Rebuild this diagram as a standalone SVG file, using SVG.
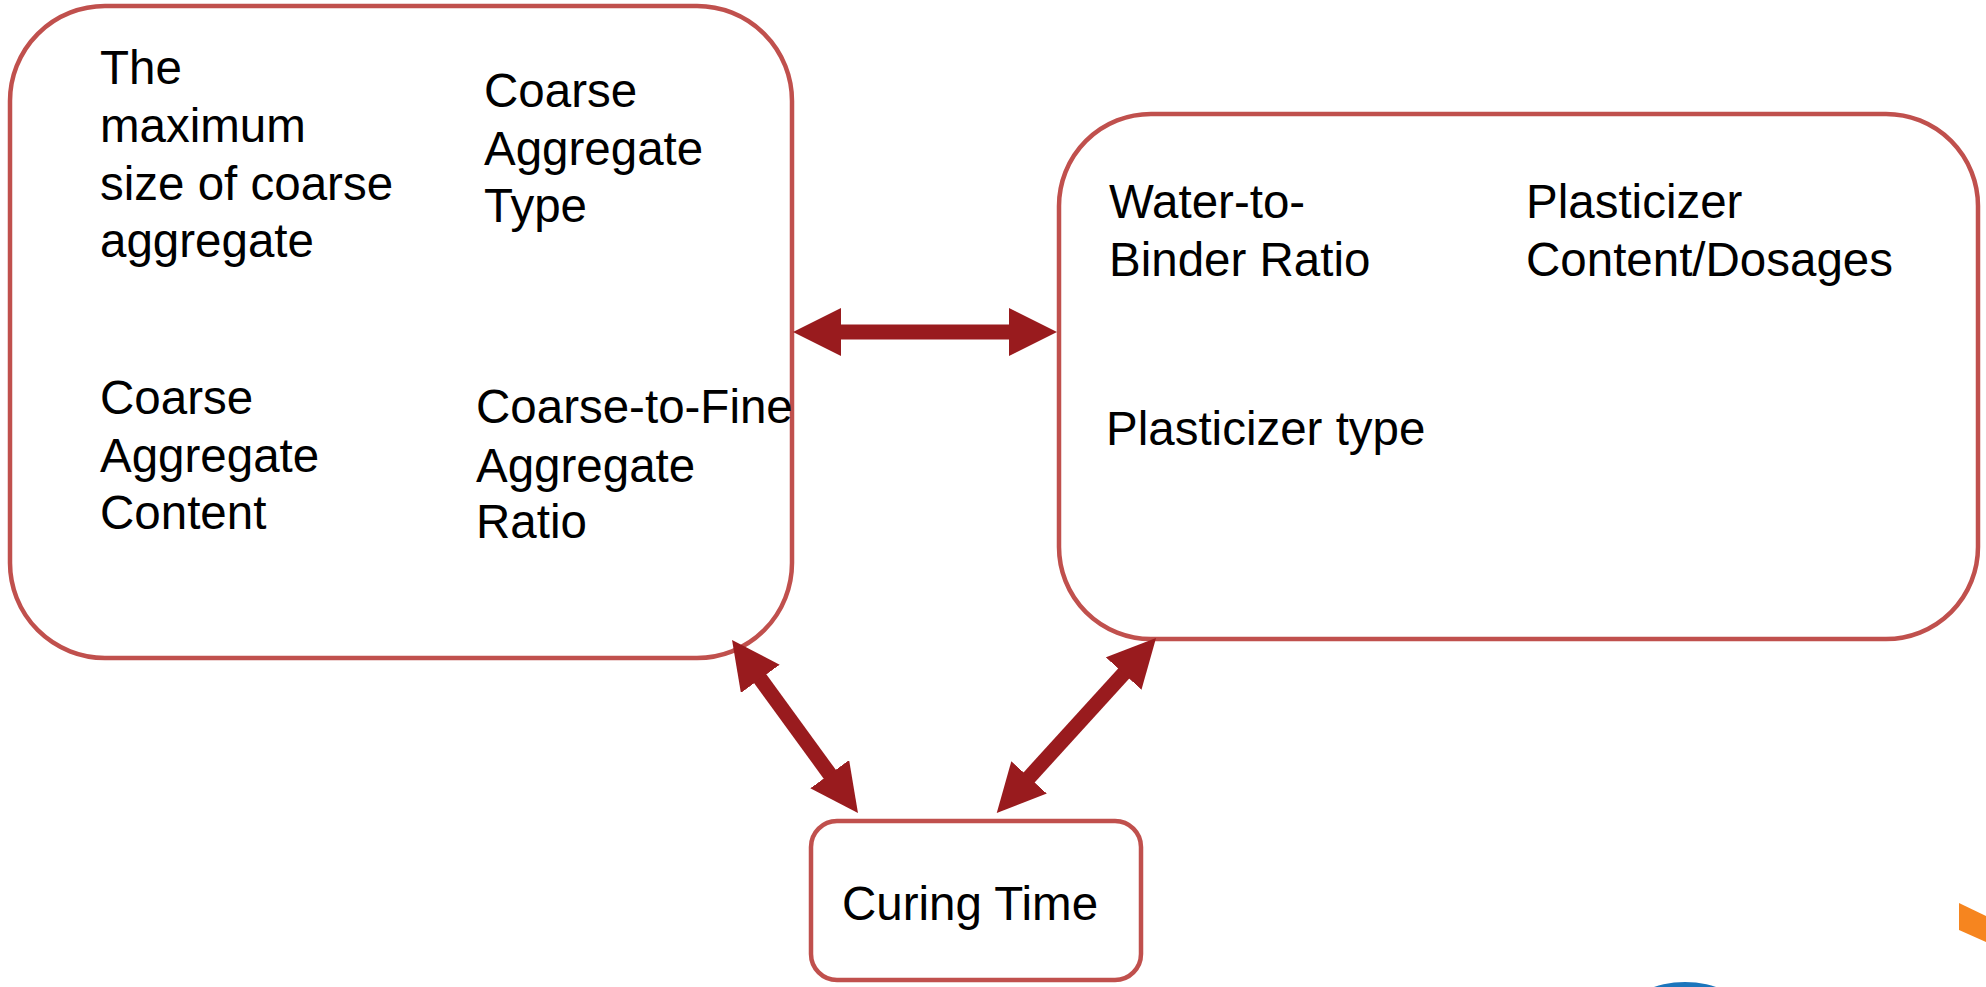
<svg xmlns="http://www.w3.org/2000/svg" width="1986" height="987" viewBox="0 0 1986 987">
<defs>
<style>
.box{fill:#fff;stroke:#C0504D;stroke-width:4.5}
.t{font-family:"Liberation Sans",Arial,sans-serif;font-size:47.5px;fill:#000}
.conn{stroke:#991B1E;stroke-width:15;fill:none;marker-start:url(#head);marker-end:url(#head)}
</style>
<marker id="head" markerUnits="userSpaceOnUse" viewBox="0 -24 48 48" markerWidth="48" markerHeight="48" refX="1" refY="0" orient="auto-start-reverse">
<path d="M0,-24 L48,0 L0,24 z" fill="#991B1E"/>
</marker>
</defs>
<rect width="1986" height="987" fill="#fff"/>
<g id="aggregate-box">
<rect class="box" x="10" y="6" width="782" height="652" rx="95" ry="95"/>
<text class="t"><tspan x="100" y="84">The</tspan><tspan x="100" y="142">maximum</tspan><tspan x="100" y="200">size of coarse</tspan><tspan x="100" y="257">aggregate</tspan></text>
<text class="t"><tspan x="484" y="107">Coarse</tspan><tspan x="484" y="165">Aggregate</tspan><tspan x="484" y="222">Type</tspan></text>
<text class="t"><tspan x="100" y="414">Coarse</tspan><tspan x="100" y="472">Aggregate</tspan><tspan x="100" y="529">Content</tspan></text>
<text class="t"><tspan x="476" y="423">Coarse-to-Fine</tspan><tspan x="476" y="482">Aggregate</tspan><tspan x="476" y="538">Ratio</tspan></text>
</g>
<g id="binder-box">
<rect class="box" x="1059" y="114" width="919" height="525" rx="92" ry="92"/>
<text class="t"><tspan x="1109" y="218">Water-to-</tspan><tspan x="1109" y="276">Binder Ratio</tspan></text>
<text class="t"><tspan x="1526" y="218">Plasticizer</tspan><tspan x="1526" y="276">Content/Dosages</tspan></text>
<text class="t" x="1106" y="445">Plasticizer type</text>
</g>
<g id="curing-box">
<rect class="box" x="811" y="821" width="330" height="159" rx="26" ry="26"/>
<text class="t" x="842" y="920">Curing Time</text>
</g>
<g id="connectors">
<line class="conn" x1="840" y1="332" x2="1010" y2="332"/>
<line class="conn" x1="759.7" y1="678" x2="830.3" y2="775"/>
<line class="conn" x1="1124.4" y1="672.8" x2="1028.4" y2="778.2"/>
</g>
<g id="decor">
<polygon points="1959,903 1986,916 1986,942 1959,930" fill="#F6851F"/>
<ellipse cx="1685" cy="1012" rx="56" ry="30" fill="#1B75BC"/>
</g>
</svg>
